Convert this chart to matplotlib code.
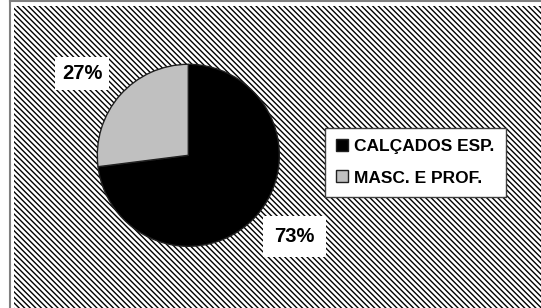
import matplotlib.pyplot as plt
from matplotlib.patches import Rectangle
from matplotlib.lines import Line2D

# data
labels = ["CALÇADOS ESP.", "MASC. E PROF."]
values = [73, 27]
colors = ["#000000", "#C0C0C0"]

W, H = 541, 308
plt.rcParams['font.family'] = ['Liberation Sans', 'DejaVu Sans']
plt.rcParams['font.weight'] = 'bold'
plt.rcParams['hatch.color'] = 'black'
plt.rcParams['hatch.linewidth'] = 1.0

fig = plt.figure(figsize=(W / 100, H / 100), dpi=100)
fig.patch.set_facecolor("white")

# hatched chart area background
bg = Rectangle((14 / W, 0), 1, (H - 6) / H, transform=fig.transFigure,
               facecolor="white", edgecolor="black", hatch="\\" * 6, linewidth=0, zorder=-2)
fig.add_artist(bg)

# outer frame lines (gray)
fig.add_artist(Line2D([9.5 / W, 9.5 / W], [0, 1 - 0.5 / H], transform=fig.transFigure,
                      color="#808080", lw=1.5, zorder=-1))
fig.add_artist(Line2D([9.5 / W, 1], [1 - 0.7 / H, 1 - 0.7 / H], transform=fig.transFigure,
                      color="#808080", lw=1.5, zorder=-1))

# pie axes: centre (188.3, 155.3) px, radius 91 px
cx, cy, r = 188.3, 155.3, 91
ax = fig.add_axes([(cx - r) / W, (H - cy - r) / H, 2 * r / W, 2 * r / H])
ax.set_facecolor("none")
wedges, texts, autotexts = ax.pie(values, colors=colors, startangle=90, counterclock=False,
                                  autopct="%1.0f%%", pctdistance=1.47,
                                  wedgeprops=dict(edgecolor="#202020", linewidth=1.0),
                                  textprops=dict(fontsize=14.5, fontweight="bold", color="black"))
ax.set_xlim(-1, 1)
ax.set_ylim(-1, 1)
ax.axis("off")

# label positions in pixels, box padding
label_px = [(294.3, 236.7), (82.3, 73.7)]
label_pad = [8, 5]
for t, (px, py), p in zip(autotexts, label_px, label_pad):
    t.set_position(((px - cx) / r, (cy - py) / r))
    t.set_bbox(dict(facecolor="white", edgecolor="none", pad=p))

leg = fig.legend(wedges, labels, loc="center", bbox_to_anchor=(415 / W, 1 - 162.2 / H),
                 fontsize=12.5, frameon=True, fancybox=False, framealpha=1,
                 edgecolor="#404040", handlelength=0.69, handleheight=0.69,
                 handletextpad=0.35, labelspacing=0.95, borderpad=0.65)
leg.get_frame().set_linewidth(1.0)
for t in leg.get_texts():
    t.set_fontweight("bold")

fig.savefig("out.png", dpi=100)
